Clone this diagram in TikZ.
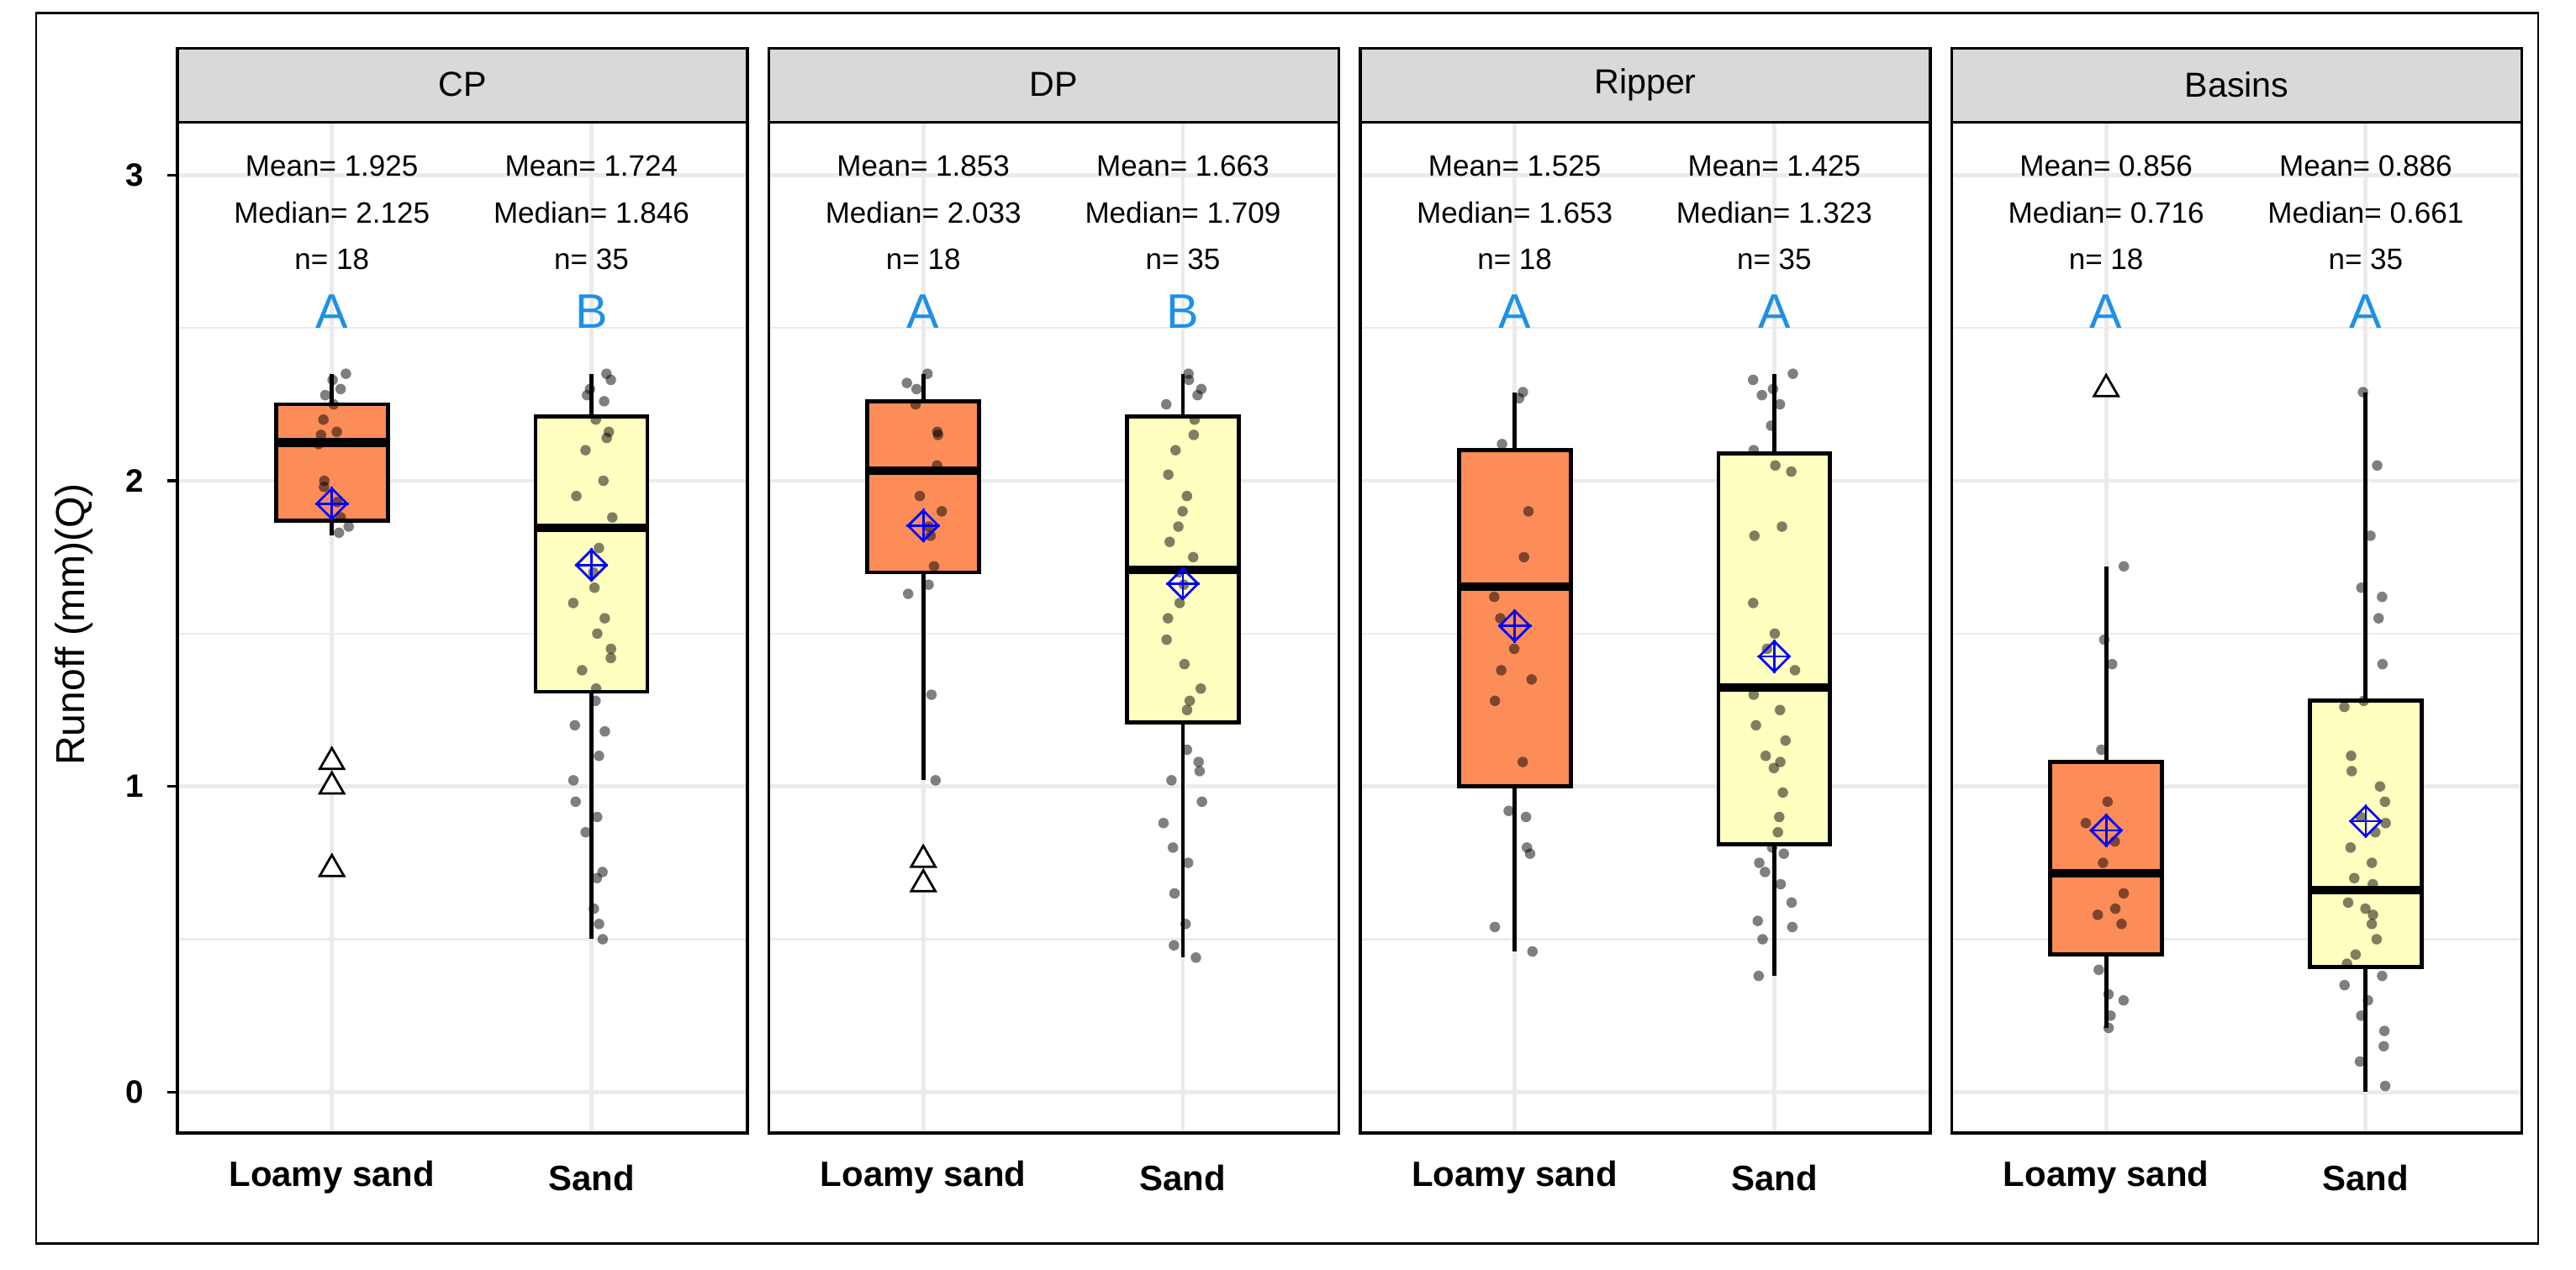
\documentclass[tikz,border=0pt]{standalone}
\usepackage{fontspec}
\setmainfont{Liberation Sans}
\usetikzlibrary{shapes.geometric}
\definecolor{boxorange}{HTML}{FC8D59}
\definecolor{boxyellow}{HTML}{FFFFBF}
\definecolor{lettblue}{HTML}{1E90E6}
\definecolor{stripgrey}{HTML}{D9D9D9}
\definecolor{gridgrey}{HTML}{EBEBEB}
\tikzset{
	statlbl/.style={font=\fontsize{5.1}{6}\selectfont},
	lett/.style={font=\fontsize{8.4}{9}\selectfont,text=lettblue,anchor=base},
	jit/.style={fill=black,fill opacity=.5},
	meanmk/.style={diamond,draw=blue,line width=.4pt,minimum size=.19cm,inner sep=0},
	outl/.style={regular polygon,regular polygon sides=3,draw,fill=white,line width=.4pt,minimum size=.17cm,inner sep=0},
}
\newcommand{\meanat}[2]{
	\node[meanmk] (#1) at #2 {};
	\draw[blue,line width=.4pt] (#1.north) -- (#1.south) (#1.west) -- (#1.east);
}
\newcommand{\panel}[2]{
	\fill[white] (#1,-.134) rectangle (#1+347,3.172);
	\foreach \g in {.5,1.5,2.5}
		\draw[gridgrey,line width=.35pt] (#1,\g) -- (#1+347,\g);
	\foreach \g in {0,1,2,3}
		\draw[gridgrey,line width=.7pt] (#1,\g) -- (#1+347,\g);
	\draw[gridgrey,line width=.7pt] (#1+94,-.134) -- (#1+94,3.172) (#1+252,-.134) -- (#1+252,3.172);
	\draw[line width=.5pt] (#1,-.134) rectangle (#1+347,3.172);
	\filldraw[fill=stripgrey,line width=.5pt] (#1,3.172) rectangle (#1+347,3.414);
	\node[font=\fontsize{6}{7}\selectfont] (t#1) at (#1+173.5,3.296) {#2};
	\node[font=\bfseries\fontsize{6.1}{7}\selectfont] (xl#1) at (#1+94,-.28) {Loamy sand};
	\node[font=\bfseries\fontsize{6.1}{7}\selectfont] (xs#1) at (#1+252,-.28) {Sand};
}
\newcommand{\stats}[5]{
	\node[statlbl] (sm#1) at (#1,3.03) {Mean= #2};
	\node[statlbl] (sd#1) at (#1,2.876) {Median= #3};
	\node[statlbl] (sn#1) at (#1,2.726) {n= #4};
	\node[lett] (sl#1) at (#1,2.5) {#5};
}
\begin{document}
\begin{tikzpicture}[x=.01cm,y=.01cm]
	\useasboundingbox (0,0) rectangle (1568,773);
	\draw[line width=.4pt] (22,16) rectangle (1545,765);
	\pgfmathsetseed{11}
	\begin{scope}[yshift=1.08cm,y=1.86cm]
		\panel{108}{CP}
		\panel{468}{DP}
		\panel{828}{Ripper}
		\panel{1188}{Basins}
		% axis
		\foreach \t in {0,1,2,3}{
			\draw[line width=.5pt] (102,\t) -- (108,\t);
			\node[font=\bfseries\fontsize{5.6}{6}\selectfont,anchor=east] (yt\t) at (100,\t) {\t};
		}
		\node[rotate=90,font=\fontsize{7}{8}\selectfont] (ylab) at (45,1.53) {Runoff (mm)(Q)};
		% statistics
		\stats{202}{1.925}{2.125}{18}{A}
		\stats{360}{1.724}{1.846}{35}{B}
		\stats{562}{1.853}{2.033}{18}{A}
		\stats{720}{1.663}{1.709}{35}{B}
		\stats{922}{1.525}{1.653}{18}{A}
		\stats{1080}{1.425}{1.323}{35}{A}
		\stats{1282}{0.856}{0.716}{18}{A}
		\stats{1440}{0.886}{0.661}{35}{A}
	\end{scope}
	\begin{scope}[yshift=1.08cm,y=1.86cm]
		% boxes: centre, low, q1, median, q3, high, fill, points
		\def\boxg#1#2#3#4#5#6#7#8{
			\draw[line width=.7pt] (#1,#2) -- (#1,#3) (#1,#5) -- (#1,#6);
			\filldraw[fill=#7,line width=.7pt] (#1-34,#3) rectangle (#1+34,#5);
			\draw[line width=1.5pt] (#1-34,#4) -- (#1+34,#4);
			\foreach \v in {#8}{
				\pgfmathsetmacro{\dx}{rand*13}
				\fill[jit] (#1+\dx,\v) circle (.032cm);
			}
		}
		\boxg{202}{1.82}{1.87}{2.125}{2.25}{2.35}{boxorange}{2.35,2.33,2.3,2.28,2.25,2.2,2.16,2.15,2.12,2.0,1.98,1.93,1.88,1.85,1.83}
		\boxg{360}{0.5}{1.31}{1.846}{2.21}{2.35}{boxyellow}{2.35,2.33,2.3,2.28,2.26,2.2,2.16,2.14,2.1,2.0,1.95,1.88,1.78,1.7,1.6,1.55,1.5,1.42,1.38,1.32,1.28,1.2,1.18,1.1,1.02,0.95,0.9,0.85,0.72,0.7,0.6,0.55,0.5,1.45,1.65}
		\boxg{562}{1.02}{1.70}{2.033}{2.26}{2.35}{boxorange}{2.35,2.32,2.3,2.25,2.16,2.15,2.05,1.95,1.9,1.85,1.82,1.72,1.66,1.63,1.02,1.3}
		\boxg{720}{0.44}{1.21}{1.709}{2.21}{2.35}{boxyellow}{2.35,2.33,2.3,2.28,2.2,2.15,2.1,2.02,1.95,1.9,1.85,1.75,1.66,1.6,1.55,1.48,1.4,1.32,1.28,1.25,1.12,1.08,1.05,1.02,0.95,0.88,0.75,0.65,0.55,0.48,0.44,1.7,1.8,2.25,0.8}
		\boxg{922}{0.46}{1.0}{1.653}{2.1}{2.29}{boxorange}{2.29,2.27,2.12,1.9,1.75,1.62,1.55,1.45,1.38,1.35,1.28,1.08,0.92,0.9,0.8,0.78,0.54,0.46}
		\boxg{1080}{0.38}{0.81}{1.323}{2.09}{2.35}{boxyellow}{2.35,2.33,2.3,2.28,2.25,2.18,2.1,2.05,2.03,1.85,1.82,1.6,1.5,1.38,1.3,1.25,1.2,1.1,1.08,1.06,0.98,0.9,0.85,0.8,0.78,0.75,0.72,0.68,0.62,0.56,0.54,0.5,0.38,1.45,1.15}
		\boxg{1282}{0.21}{0.45}{0.716}{1.08}{1.72}{boxorange}{1.72,1.48,1.4,1.12,0.95,0.88,0.82,0.75,0.65,0.6,0.58,0.55,0.4,0.32,0.3,0.25,0.21}
		\boxg{1440}{0.0}{0.41}{0.661}{1.28}{2.29}{boxyellow}{2.29,2.05,1.82,1.65,1.62,1.55,1.4,1.28,1.26,1.05,1.0,0.95,0.9,0.85,0.8,0.75,0.68,0.62,0.58,0.55,0.5,0.45,0.42,0.35,0.3,0.25,0.2,0.15,0.1,0.02,0.6,0.7,0.88,1.1,0.38}
		% outliers
		\foreach \o [count=\k] in {1.08,1.0,0.73}
			\node[outl] (oc\k) at (202,\o) {};
		\foreach \o [count=\k] in {0.76,0.68}
			\node[outl] (od\k) at (562,\o) {};
		\node[outl] (ob1) at (1282,2.3) {};
		% means
		\meanat{m1}{(202,1.925)}
		\meanat{m2}{(360,1.724)}
		\meanat{m3}{(562,1.853)}
		\meanat{m4}{(720,1.663)}
		\meanat{m5}{(922,1.525)}
		\meanat{m6}{(1080,1.425)}
		\meanat{m7}{(1282,0.856)}
		\meanat{m8}{(1440,0.886)}
	\end{scope}
\end{tikzpicture}
\end{document}
